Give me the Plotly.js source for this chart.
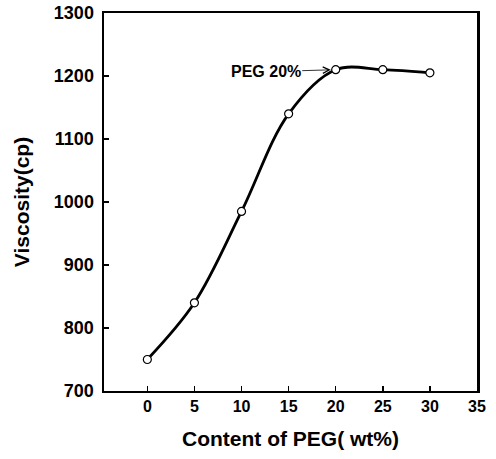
<!DOCTYPE html>
<html>
<head>
<meta charset="utf-8">
<script src="https://cdn.plot.ly/plotly-3.0.1.min.js"></script>
<style>html,body{margin:0;padding:0;background:#fff;}#chart{width:496px;height:459px;}</style>
</head>
<body>
<div id="chart"></div>
<script>
const pegContent = [0, 5, 10, 15, 20, 25, 30];
const viscosity = [750, 840, 985, 1140, 1210, 1210, 1205];
const xTicks = [0, 5, 10, 15, 20, 25, 30, 35];
const yTicks = [700, 800, 900, 1000, 1100, 1200, 1300];
const annText = "PEG 20%";
const annX = 20, annY = 1210;

const font = "Liberation Sans, Arial, sans-serif";

const trace = {
  x: pegContent,
  y: viscosity,
  type: "scatter",
  mode: "lines+markers",
  line: {shape: "spline", smoothing: 1, color: "#000", width: 2.8},
  marker: {symbol: "circle", size: 8, color: "#fff", line: {color: "#000", width: 1.2}},
  showlegend: false,
  hoverinfo: "skip"
};

const layout = {
  width: 496, height: 459,
  margin: {l: 104, r: 19, t: 13, b: 68},
  paper_bgcolor: "#fff", plot_bgcolor: "#fff",
  font: {family: font, color: "#000"},
  xaxis: {
    range: [-4.6, 35],
    tickvals: xTicks,
    ticktext: xTicks.map(v => "<b>" + v + "</b>"),
    ticks: "inside", ticklen: 5, tickwidth: 1.5, tickcolor: "#000",
    showline: true, linewidth: 2, linecolor: "#000", mirror: true,
    showgrid: false, zeroline: false,
    tickfont: {family: font, size: 16, color: "#000"},
    title: {text: "<b>Content of PEG( wt%)</b>", font: {family: font, size: 21, color: "#000"}, standoff: 17}
  },
  yaxis: {
    range: [700, 1300],
    tickvals: yTicks,
    ticktext: yTicks.map(v => "<b>" + v + "</b>"),
    ticks: "inside", ticklen: 5, tickwidth: 1.5, tickcolor: "#000",
    ticklabelstandoff: 4,
    showline: true, linewidth: 2.5, linecolor: "#000", mirror: true,
    showgrid: false, zeroline: false,
    tickfont: {family: font, size: 18, color: "#000"},
    title: {text: "<b>Viscosity(cp)</b>", font: {family: font, size: 21, color: "#000"}, standoff: 19}
  },
  annotations: [{
    x: annX, y: annY, xref: "x", yref: "y",
    text: "<b>" + annText + "</b>",
    font: {family: font, size: 16, color: "#000"},
    showarrow: true, arrowhead: 5, arrowsize: 1.6, arrowwidth: 0.8, arrowcolor: "#000",
    ax: -70, ay: 2, standoff: 5
  }]
};

Plotly.newPlot("chart", [trace], layout, {staticPlot: true, displayModeBar: false});
</script>
</body>
</html>
